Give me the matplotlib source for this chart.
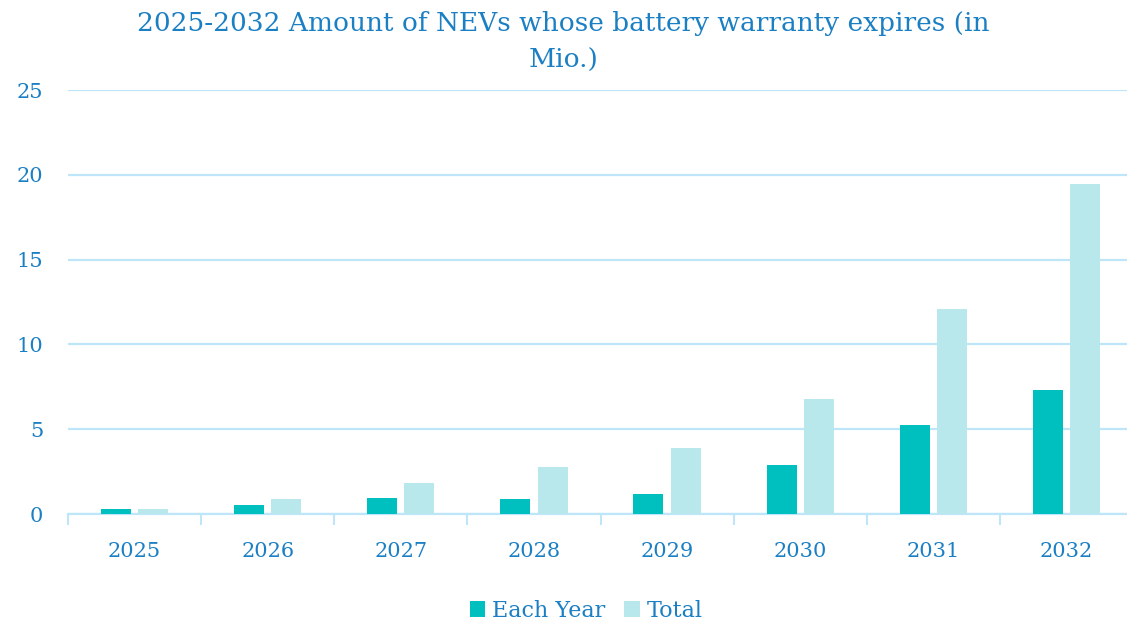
#!/usr/bin/env python3

import matplotlib
import numpy as np

matplotlib.use("Agg")
import matplotlib.pyplot as plt


years = ["2025", "2026", "2027", "2028", "2029", "2030", "2031", "2032"]
each_year = [0.3, 0.55, 0.95, 0.9, 1.15, 2.9, 5.25, 7.3]
total = [0.3, 0.88, 1.85, 2.75, 3.9, 6.8, 12.1, 19.45]

TEXT = "#1a7fc3"
GRID = "#bfe6f8"
C_EACH = "#00bfbf"
C_TOTAL = "#b9e8ec"

plt.rcParams["font.family"] = ["DejaVu Serif"]

fig = plt.figure(figsize=(11.27, 6.24), dpi=100)
# plot area: x 68..1133 px, y 90..514 px
ax = fig.add_axes([68 / 1127, 1 - 514 / 624, 1065 / 1127, 424 / 624])

x = np.arange(len(years))
width = 0.225
gap = 0.055
ax.bar(x - (width + gap) / 2, each_year, width, color=C_EACH, label="Each Year", zorder=3)
ax.bar(x + (width + gap) / 2, total, width, color=C_TOTAL, label="Total", zorder=3)

ax.set_xlim(-0.5, len(years) - 0.5)
ax.set_ylim(0, 25)
ax.set_yticks(range(0, 26, 5))
ax.grid(axis="y", color=GRID, linewidth=1.6, zorder=0)

for side in ["top", "right", "left"]:
    ax.spines[side].set_visible(False)
ax.spines["bottom"].set_color(GRID)
ax.spines["bottom"].set_linewidth(1.6)

ax.set_xticks(x)
ax.set_xticklabels(years)
ax.set_xticks(np.arange(-0.5, len(years), 1), minor=True)
ax.tick_params(axis="x", which="major", length=0, pad=20, labelsize=15, labelcolor=TEXT)
ax.tick_params(axis="x", which="minor", length=8, width=1.5, color=GRID)
ax.tick_params(axis="y", length=0, pad=18, labelsize=15, labelcolor=TEXT)

fig.suptitle(
    "2025-2032 Amount of NEVs whose battery warranty expires (in\nMio.)",
    x=0.5, y=1 - 11 / 624, fontsize=19, color=TEXT, linespacing=1.6, va="top",
)

leg = fig.legend(
    loc="center", bbox_to_anchor=(586 / 1127, 1 - 611 / 624), ncol=2, frameon=False,
    fontsize=16, handlelength=0.7, handleheight=0.7, handletextpad=0.3, columnspacing=0.85,
)
for t in leg.get_texts():
    t.set_color(TEXT)

fig.savefig("out.png", dpi=100)
